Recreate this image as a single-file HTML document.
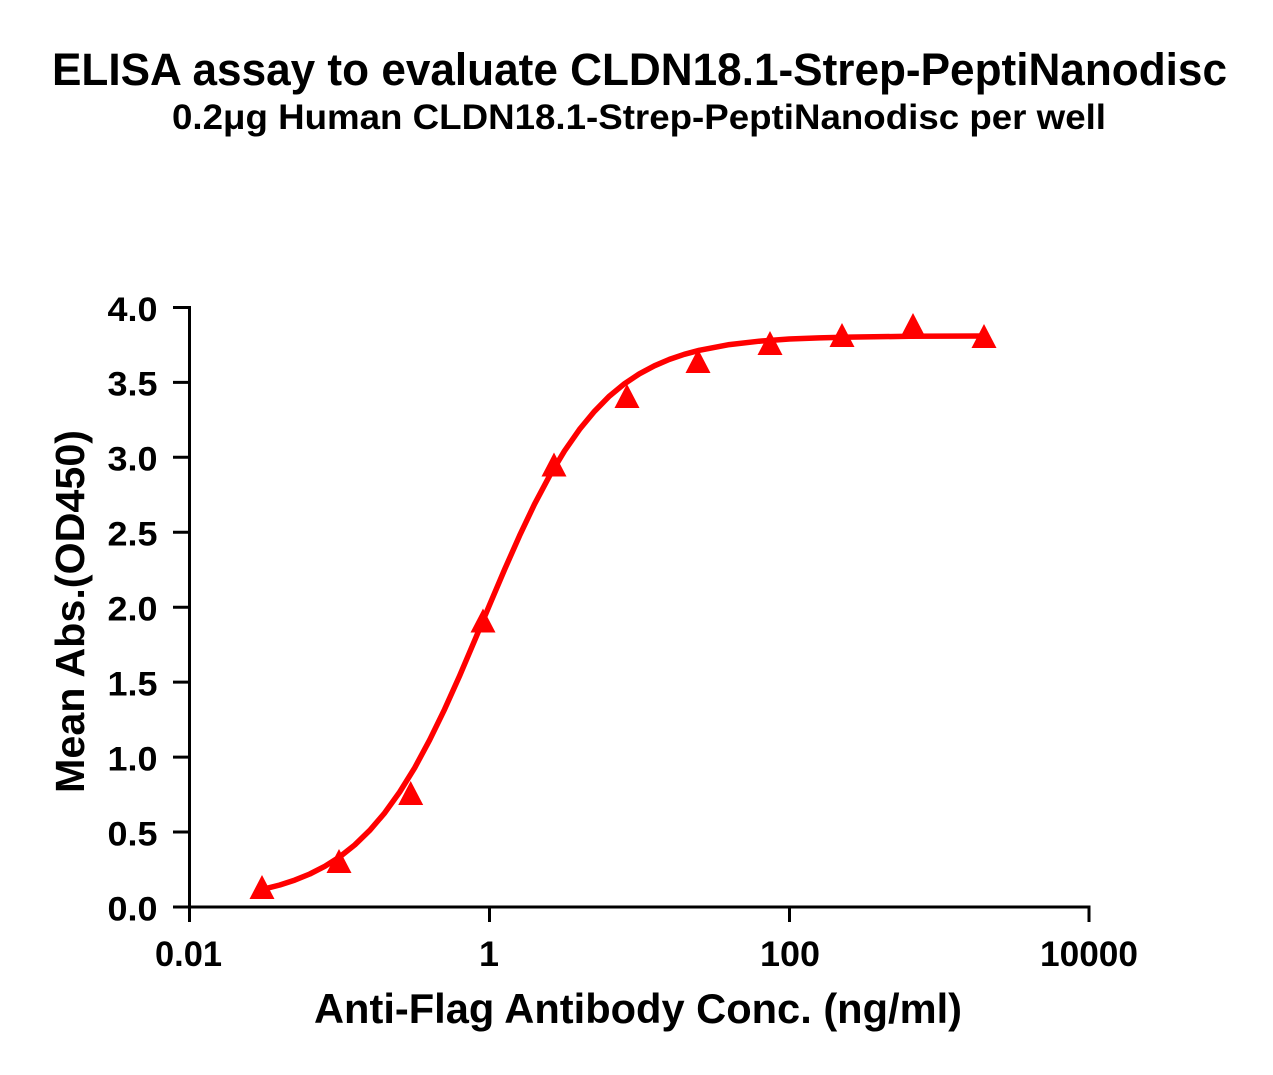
<!DOCTYPE html>
<html>
<head>
<meta charset="utf-8">
<style>
  html,body{margin:0;padding:0;background:#fff;}
  svg{display:block;}
  text{font-family:"Liberation Sans",Arial,sans-serif;font-weight:bold;fill:#000;}
</style>
</head>
<body>
<svg width="1273" height="1075" viewBox="0 0 1273 1075" xmlns="http://www.w3.org/2000/svg">
  <rect width="1273" height="1075" fill="#fff"/>

  <!-- Titles -->
  <text x="52" y="85" font-size="45" textLength="1175" lengthAdjust="spacingAndGlyphs">ELISA assay to evaluate CLDN18.1-Strep-PeptiNanodisc</text>
  <text x="172" y="129" font-size="35" textLength="934" lengthAdjust="spacingAndGlyphs">0.2μg Human CLDN18.1-Strep-PeptiNanodisc per well</text>

  <!-- Axes -->
  <g stroke="#000" stroke-width="3" fill="none">
    <line x1="189.5" y1="306" x2="189.5" y2="908.5"/>
    <line x1="188" y1="907" x2="1090.5" y2="907"/>
    <line x1="173" y1="907" x2="189.5" y2="907"/>
    <line x1="173" y1="832.05" x2="189.5" y2="832.05"/>
    <line x1="173" y1="757.1" x2="189.5" y2="757.1"/>
    <line x1="173" y1="682.15" x2="189.5" y2="682.15"/>
    <line x1="173" y1="607.2" x2="189.5" y2="607.2"/>
    <line x1="173" y1="532.25" x2="189.5" y2="532.25"/>
    <line x1="173" y1="457.3" x2="189.5" y2="457.3"/>
    <line x1="173" y1="382.35" x2="189.5" y2="382.35"/>
    <line x1="173" y1="307.5" x2="189.5" y2="307.5"/>
    <line x1="189.5" y1="907" x2="189.5" y2="922"/>
    <line x1="489.5" y1="907" x2="489.5" y2="922"/>
    <line x1="789.5" y1="907" x2="789.5" y2="922"/>
    <line x1="1089" y1="907" x2="1089" y2="922"/>
  </g>

  <!-- Y tick labels -->
  <g font-size="34" text-anchor="end">
    <text x="157.5" y="920.5" textLength="50" lengthAdjust="spacingAndGlyphs">0.0</text>
    <text x="157.5" y="845.5" textLength="50" lengthAdjust="spacingAndGlyphs">0.5</text>
    <text x="157.5" y="770.5" textLength="50" lengthAdjust="spacingAndGlyphs">1.0</text>
    <text x="157.5" y="695.5" textLength="50" lengthAdjust="spacingAndGlyphs">1.5</text>
    <text x="157.5" y="620.5" textLength="50" lengthAdjust="spacingAndGlyphs">2.0</text>
    <text x="157.5" y="545.5" textLength="50" lengthAdjust="spacingAndGlyphs">2.5</text>
    <text x="157.5" y="470.5" textLength="50" lengthAdjust="spacingAndGlyphs">3.0</text>
    <text x="157.5" y="395.5" textLength="50" lengthAdjust="spacingAndGlyphs">3.5</text>
    <text x="157.5" y="321" textLength="50" lengthAdjust="spacingAndGlyphs">4.0</text>
  </g>

  <!-- X tick labels -->
  <g font-size="35">
    <text x="155" y="966" textLength="67" lengthAdjust="spacingAndGlyphs">0.01</text>
    <text x="479" y="966" textLength="20" lengthAdjust="spacingAndGlyphs">1</text>
    <text x="760" y="966" textLength="60" lengthAdjust="spacingAndGlyphs">100</text>
    <text x="1040" y="966" textLength="98" lengthAdjust="spacingAndGlyphs">10000</text>
  </g>

  <!-- Axis titles -->
  <text x="314" y="1023" font-size="42" textLength="648" lengthAdjust="spacingAndGlyphs">Anti-Flag Antibody Conc. (ng/ml)</text>
  <text transform="translate(84,793) rotate(-90)" x="0" y="0" font-size="41" textLength="363" lengthAdjust="spacingAndGlyphs">Mean Abs.(OD450)</text>

  <!-- Fitted curve -->
  <path d="M261.9,889.5 L279.8,885.0 L294.8,880.1 L309.8,874.0 L324.8,866.3 L339.8,856.8 L354.8,844.9 L369.7,830.4 L384.7,812.9 L399.7,792.0 L414.7,767.8 L429.6,740.1 L444.6,709.3 L459.6,675.9 L474.6,640.6 L489.6,604.8 L504.6,569.5 L519.6,535.6 L534.5,504.2 L549.5,475.9 L564.5,450.9 L579.5,429.4 L594.5,411.3 L609.4,396.1 L624.4,383.8 L639.4,373.8 L654.4,365.8 L669.4,359.4 L684.3,354.3 L699.3,350.3 L729.3,344.6 L759.2,341.2 L789.2,339.0 L819.1,337.9 L849.1,337.1 L909.0,336.3 L985.4,336.0"
        fill="none" stroke="#ff0000" stroke-width="5.5" stroke-linejoin="round" stroke-linecap="round"/>

  <!-- Data markers (triangles) -->
  <g fill="#ff0000">
    <polygon points="262,875 249.5,899 274.5,899"/>
    <polygon points="339,849 326.5,873 351.5,873"/>
    <polygon points="410.7,781 398.2,805 423.2,805"/>
    <polygon points="483,608.5 470.5,632.5 495.5,632.5"/>
    <polygon points="554,452.5 541.5,476.5 566.5,476.5"/>
    <polygon points="627,384 614.5,408 639.5,408"/>
    <polygon points="698,349 685.5,373 710.5,373"/>
    <polygon points="770,331 757.5,355 782.5,355"/>
    <polygon points="842,323 829.5,347 854.5,347"/>
    <polygon points="913,313 900.5,337 925.5,337"/>
    <polygon points="984,324 971.5,348 996.5,348"/>
  </g>
</svg>
</body>
</html>
